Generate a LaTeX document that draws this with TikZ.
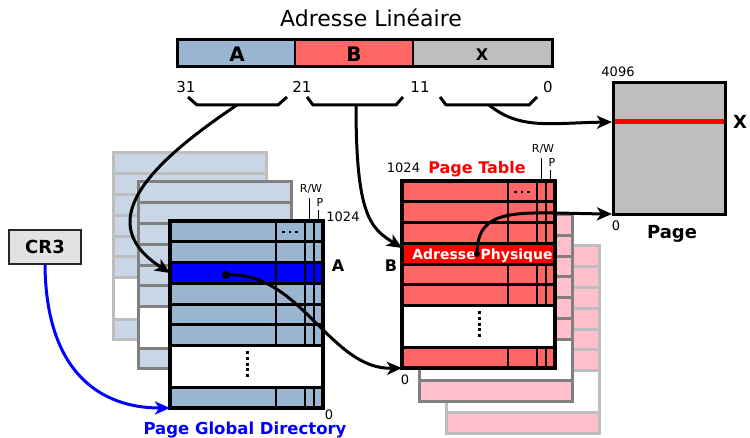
\documentclass[tikz,border=0pt]{standalone}
\usepackage{fontspec}
\setmainfont{DejaVu Sans}
\usetikzlibrary{arrows.meta}

\definecolor{pgdrow}{RGB}{154,181,207}
\definecolor{pgdback}{RGB}{200,214,229}
\definecolor{ptrow}{RGB}{255,102,102}
\definecolor{ptback}{RGB}{255,192,203}
\definecolor{pagegray}{RGB}{190,190,190}
\definecolor{midborder}{RGB}{128,128,128}
\definecolor{farborder}{RGB}{190,190,190}
\definecolor{regfill}{RGB}{226,226,226}
\definecolor{selblue}{RGB}{0,0,255}
\definecolor{selred}{RGB}{255,0,0}

\newcommand\fsz[1]{\fontsize{#1pt}{#1pt}\selectfont}

\tikzset{
  lbl/.style={inner sep=0pt, font=\fsz{#1}, text height=0.73*#1pt, text depth=0pt},
  blbl/.style={inner sep=0pt, font=\bfseries\fsz{#1}, text height=0.73*#1pt, text depth=0pt},
  conn/.style={line width=3pt, -{Stealth[length=15pt,width=13pt,inset=4pt]}},
  bracket/.style={line width=3pt, line join=round},
}

% a table seen behind the front one: six entries, a gap, one entry
\newcommand\backlayer[4]{%
  \begin{scope}[shift={(#1,#2)}]
    \fill[#3] (0,0) rectangle (153,124.7);
    \fill[white] (0,124.7) rectangle (153,166.3);
    \fill[#3] (0,166.3) rectangle (153,187);
    \foreach \k in {1,...,6} \draw[#4,line width=3pt] (0,\k*20.78) -- (153,\k*20.78);
    \draw[#4,line width=3pt] (0,166.3) -- (153,166.3);
    \draw[#4,line width=3pt] (0,0) rectangle (153,187);
  \end{scope}}

% fill and field columns of a front table
\newcommand\fronttable[3]{%
  \begin{scope}[shift={(#1,#2)}]
    \fill[#3] (0,0) rectangle (153,124.7);
    \fill[white] (0,124.7) rectangle (153,166.3);
    \fill[#3] (0,166.3) rectangle (153,187);
    \foreach \c in {106,135,144} {
      \draw[line width=1.8pt] (\c,0) -- (\c,124.7);
      \draw[line width=1.8pt] (\c,166.3) -- (\c,187);}
    \foreach \d in {-6.5,0,6.5} \fill (118.6+\d,9.6) rectangle ++(2.8,2.8);
    \foreach \d in {0,...,4} \fill (75.5,130.5+\d*5.6) rectangle ++(3,3);
  \end{scope}}

% entry separators, frame and the R/W and P bit ticks of a front table
\newcommand\frontgrid[2]{%
  \begin{scope}[shift={(#1,#2)}]
    \foreach \k in {1,...,6} \draw[line width=3pt] (0,\k*20.78) -- (153,\k*20.78);
    \draw[line width=3pt] (0,166.3) -- (153,166.3);
    \draw[line width=3.5pt] (0,0) rectangle (153,187);
    \draw[line width=1.5pt] (139.5,0) -- (139.5,-23);
    \draw[line width=1.5pt] (148.5,0) -- (148.5,-11);
    \node[lbl=11] at (141,-33) {R/W};
    \node[lbl=11] at (150,-19) {P};
  \end{scope}}

\begin{document}
\begin{tikzpicture}[x=1pt,y=-1pt]
\useasboundingbox (0,0) rectangle (750,438);

% ---- linear address -------------------------------------------------
\node[lbl=22] (title) at (371,18.5) {Adresse Linéaire};
\fill[pgdrow] (177,40) rectangle (295,67);
\fill[ptrow] (295,40) rectangle (413,67);
\fill[pagegray] (413,40) rectangle (552,67);
\draw[line width=2.3pt] (295,40) -- (295,67) (413,40) -- (413,67);
\draw[line width=3pt] (177,40) rectangle (552,67);
\node[blbl=20] (fa) at (237,54) {A};
\node[blbl=20] (fb) at (354,54) {B};
\node[blbl=16] (fx) at (482,55) {X};

\node[lbl=15] (b31) at (186,87) {31};
\node[lbl=15] (b21) at (302,87) {21};
\node[lbl=15] (b11) at (420,87) {11};
\node[lbl=15] (b0)  at (548,87) {0};

\draw[bracket] (188,97) -- (197,105) -- (278,105) -- (287,97);
\draw[bracket] (307,97) -- (313,105) -- (396,105) -- (403,97);
\draw[bracket] (440,97) -- (446,105) -- (529,105) -- (537,97);
\coordinate (bra) at (237,105);
\coordinate (brb) at (356,105);
\coordinate (brx) at (489,105);

% ---- page global directory -----------------------------------------
\backlayer{113}{153}{pgdback}{farborder}
\backlayer{138}{182}{pgdback}{midborder}
\fronttable{170}{221}{pgdrow}
\fill[selblue] (170,262.56) rectangle (323,283.34);
\begin{scope}[shift={(170,221)}]
  \foreach \c in {106,135,144} \draw[line width=1.8pt] (\c,41.56) -- (\c,62.34);
\end{scope}
\frontgrid{170}{221}
\node[inner sep=0pt, minimum width=153pt, minimum height=187pt, anchor=north west] (pgd) at (170,221) {};
\coordinate (pgdsel) at (170,273);
\coordinate (pgdbase) at (170,408);
\node[lbl=13] (pgdtop) at (343,216.5) {1024};
\node[lbl=13] (pgdzero) at (329,414.5) {0};
\node[blbl=16] (lblA) at (338,266) {A};
\node[blbl=16.5,text=selblue] (pgdname) at (245,428.5) {Page Global Directory};
\fill (226,275) circle (4) coordinate (pgddot);

% ---- page table ----------------------------------------------------
\backlayer{446}{246}{ptback}{farborder}
\backlayer{419}{214.5}{ptback}{midborder}
\fronttable{402}{181}{ptrow}
\fill[selred] (402,243.34) rectangle (556,264.12);
\frontgrid{402}{181}
\node[inner sep=0pt, minimum width=153pt, minimum height=187pt, anchor=north west] (pt) at (402,181) {};
\node[blbl=14,text=white] (phys) at (482.5,254) {Adresse Physique};
\coordinate (ptsel) at (402,248);
\coordinate (ptbase) at (402,368);
\node[lbl=13] (pttop) at (403.5,168) {1024};
\node[blbl=16,text=selred] (ptname) at (477,168) {Page Table};
\node[blbl=16] (lblB) at (391,266) {B};
\node[lbl=13] (ptzero) at (405,380) {0};
\fill (477,254) circle (3) coordinate (ptdot);

% ---- page ----------------------------------------------------------
\fill[pagegray] (613,83) rectangle (725,215);
\draw[selred,line width=5pt] (613,122) -- (725,122);
\draw[line width=3pt] (613,83) rectangle (725,215);
\node[inner sep=0pt, minimum width=112pt, minimum height=132pt, anchor=north west] (page) at (613,83) {};
\coordinate (pagesel) at (612,122);
\coordinate (pagebase) at (612,214);
\node[lbl=13] (pgtop) at (618,72) {4096};
\node[lbl=13] (pgzero) at (616,226) {0};
\node[blbl=18] (lblX) at (740,122) {X};
\node[blbl=18] (pgname) at (672,232) {Page};

% ---- CR3 register --------------------------------------------------
\node[draw=black!85, line width=2pt, fill=regfill, minimum width=72pt, minimum height=34pt,
      inner sep=0pt, font=\bfseries\fsz{18}] (cr3) at (45,247) {CR3};

% ---- connectors ----------------------------------------------------
\draw[conn] (bra) .. controls (140,170) and (95,225) .. (pgdsel);
\draw[conn] (brb) .. controls (356,215) and (370,228) .. (ptsel);
\draw[conn] (brx) .. controls (520,130) and (550,123) .. (pagesel);
\draw[conn] (pgddot) .. controls (300,270) and (330,370) .. (ptbase);
\draw[conn] (ptdot) .. controls (477,205) and (520,213) .. (pagebase);
\draw[conn,selblue] (cr3.south) .. controls (46,372) and (100,408) .. (pgdbase);
\end{tikzpicture}
\end{document}
